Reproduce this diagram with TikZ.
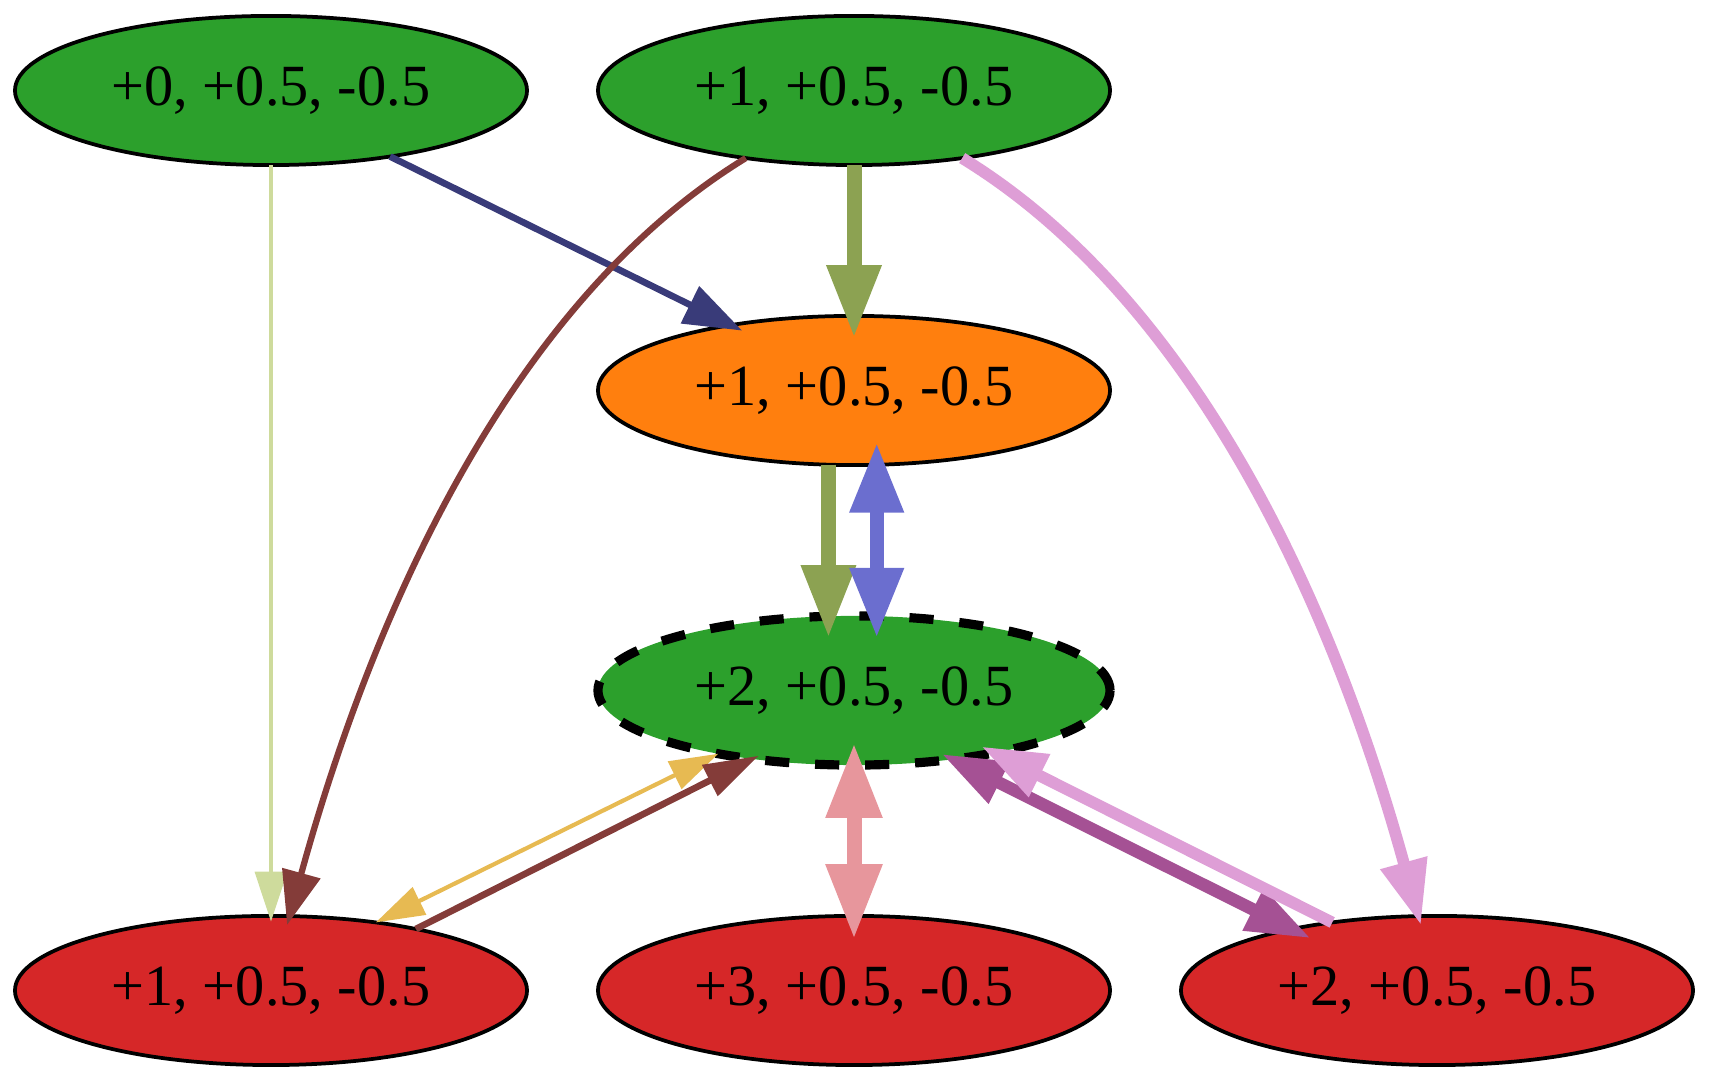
\documentclass[tikz,border=0pt]{standalone}
\usepackage{fontspec}
\setmainfont{Liberation Serif}
\usetikzlibrary{arrows.meta,shapes.geometric}

\definecolor{fillgreen}{HTML}{2CA02C}
\definecolor{fillorange}{HTML}{FF7F0E}
\definecolor{fillred}{HTML}{D62728}
\definecolor{cLight}{HTML}{CEDB9C}
\definecolor{cNavy}{HTML}{393B79}
\definecolor{cOlive}{HTML}{8CA252}
\definecolor{cBrown}{HTML}{843C39}
\definecolor{cPink}{HTML}{DE9ED6}
\definecolor{cViolet}{HTML}{6B6ECF}
\definecolor{cYellow}{HTML}{E7BA52}
\definecolor{cRose}{HTML}{E7969C}
\definecolor{cPurple}{HTML}{A55194}

\begin{document}
\begin{tikzpicture}[x=0.24pt,y=-0.24pt,
  state/.style={ellipse, draw=black, line width=0.9pt,
    minimum width=122.9pt, minimum height=35.8pt,
    inner sep=0pt, outer sep=0pt,
    font=\fontsize{14}{16}\selectfont},
  dashedstate/.style={state, line width=2.2pt, dash pattern=on 5.8pt off 6.2pt},
  arr/.style 2 args={arrows={-Triangle[length=#1,width=#2]}},
  barr/.style 2 args={arrows={Triangle[length=#1,width=#2]-Triangle[length=#1,width=#2]}},
  link/.style={line cap=butt}]
\useasboundingbox (0,0) rectangle (1709,1083);

% nodes
\node[state, fill=fillgreen]  (A) at (271,90.5)  {+0, +0.5, -0.5};
\node[state, fill=fillgreen]  (B) at (854,90.5)  {+1, +0.5, -0.5};
\node[state, fill=fillorange] (C) at (854,390.5) {+1, +0.5, -0.5};
\node[dashedstate, fill=fillgreen] (D) at (854,690.5) {+2, +0.5, -0.5};
\node[state, fill=fillred]    (E) at (271,990.5) {+1, +0.5, -0.5};
\node[state, fill=fillred]    (F) at (854,990.5) {+3, +0.5, -0.5};
\node[state, fill=fillred]    (G) at (1437,990.5) {+2, +0.5, -0.5};

% edges from the top row
\draw[link, draw=cLight, line width=1.1pt, arr={12pt}{7.6pt}, shorten >=-1.4pt]
  (A.south) -- (E.north);
\draw[link, draw=cNavy, line width=1.6pt, arr={14pt}{9.6pt}, shorten >=-3pt]
  (A.-29) -- (C.152);
\draw[link, draw=cOlive, line width=3.6pt, arr={17.5pt}{12.3pt}, shorten >=-5.3pt]
  (B.south) -- (C.north);
\draw[link, draw=cBrown, line width=1.5pt, arr={12.9pt}{9.2pt}, shorten >=-2.2pt]
  (B.212) .. controls (530,290) and (385,570) .. (E.76);
\draw[link, draw=cPink, line width=2.8pt, arr={15.5pt}{11pt}, shorten >=-2.2pt]
  (B.-32) .. controls (1178,290) and (1323,570) .. (G.104);

% edges between the middle nodes
\draw[link, draw=cOlive, line width=3.6pt, arr={17.5pt}{12.3pt}, shorten >=-5.2pt]
  (C.-109) -- (D.109);
\draw[link, draw=cViolet, line width=3.4pt, barr={16.8pt}{12.2pt},
  shorten <=-5.3pt, shorten >=-5.2pt]
  (C.-73) -- (D.73);

% edges around the bottom row
\draw[link, draw=cYellow, line width=1pt, barr={11.7pt}{7.2pt}]
  (E.33) -- (D.205);
\draw[link, draw=cBrown, line width=1.6pt, arr={13.2pt}{8pt}, shorten >=-1.7pt]
  (E.23) -- (D.214);
\draw[link, draw=cRose, line width=3.6pt, barr={18pt}{12.7pt},
  shorten <=-5.3pt, shorten >=-5.6pt]
  (D.south) -- (F.north);
\draw[link, draw=cPurple, line width=3pt, barr={15.5pt}{10.5pt},
  shorten <=-2.9pt, shorten >=-5pt]
  (D.-35) -- (G.157);
\draw[link, draw=cPink, line width=2.8pt, arr={15.6pt}{10.8pt}, shorten >=-3.4pt]
  (G.147) -- (D.-24);
\end{tikzpicture}
\end{document}
